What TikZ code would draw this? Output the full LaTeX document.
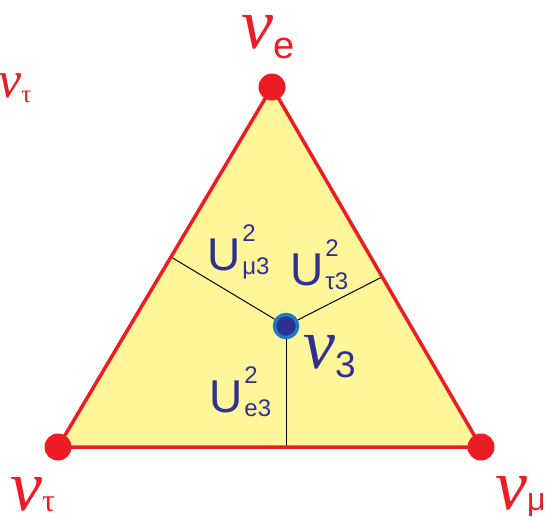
\documentclass[tikz,border=0pt]{standalone}
\usepackage{fontspec}
\setmainfont{Liberation Sans}
\newfontfamily\nufont{Liberation Serif}
\definecolor{nred}{HTML}{ED1C24}
\definecolor{tyellow}{HTML}{FFF69A}
\definecolor{nblue}{HTML}{2E3192}
\definecolor{ringblue}{HTML}{1F78C0}
\newcommand\fsz[1]{\fontsize{#1}{#1}\selectfont}
\newcommand\nuglyph[1]{{\fsz{#1}\nufont\itshape ν}}
\newcommand\Ulbl[1]{{\fsz{46}U}\hspace{2pt}\makebox[0pt][l]{\raisebox{29pt}{\fsz{24}2}}\raisebox{-4pt}{\fsz{24}#1}}
\tikzset{
  redline/.style={draw=nred,line width=3.5pt,line join=round},
  thinline/.style={draw=black,line width=1pt},
  vdot/.style={circle,fill=nred,minimum size=27pt,inner sep=0pt},
  cdot/.style={circle,fill=nblue,draw=ringblue,line width=3.5pt,minimum size=23pt,inner sep=0pt},
  redlbl/.style={text=nred,inner sep=0pt,anchor=base west,text height=32pt,text depth=0pt},
  bluelbl/.style={text=nblue,inner sep=0pt,anchor=base west}
}
\begin{document}
\begin{tikzpicture}[x=1pt,y=-1pt]
\useasboundingbox (0,0) rectangle (550,520);
\coordinate (E) at (272,87);
\coordinate (T) at (58,447);
\coordinate (M) at (481,447);
\coordinate (C) at (286,326);
\coordinate (L) at (171,257);
\coordinate (R) at (382,277);
\coordinate (B) at (286,447);
\fill[tyellow] (E) -- (T) -- (M) -- cycle;
\node[cdot] (c3) at (C) {};
\draw[thinline] (c3) -- (L);
\draw[thinline] (c3) -- (R);
\draw[thinline] (c3) -- (B);
\draw[redline] (E) -- (T) -- (M) -- cycle;
\node[vdot] (dE) at (E) {};
\node[vdot] (dT) at (T) {};
\node[vdot] (dM) at (M) {};
\node[redlbl] (lE) at (241,48) {\nuglyph{72}\raisebox{-10pt}{\fsz{38}e}};
\node[redlbl] (lT) at (10,510) {\nuglyph{72}\raisebox{-1pt}{\fsz{32}\nufont τ}};
\node[redlbl] (lM) at (495,509) {\nuglyph{72}\raisebox{-1pt}{\fsz{32}μ}};
\node[redlbl,text height=24pt] (lTs) at (-2,97) {\nuglyph{52}\raisebox{-5pt}{\fsz{25}\nufont τ}};
\node[bluelbl] (u1) at (207,270) {\Ulbl{μ3}};
\node[bluelbl] (u2) at (290,285) {\Ulbl{τ3}};
\node[bluelbl] (u3) at (209,412) {\Ulbl{e3}};
\node[bluelbl] (n3) at (303,368) {\nuglyph{72}\raisebox{-9pt}{\fsz{37}3}};
\end{tikzpicture}
\end{document}
